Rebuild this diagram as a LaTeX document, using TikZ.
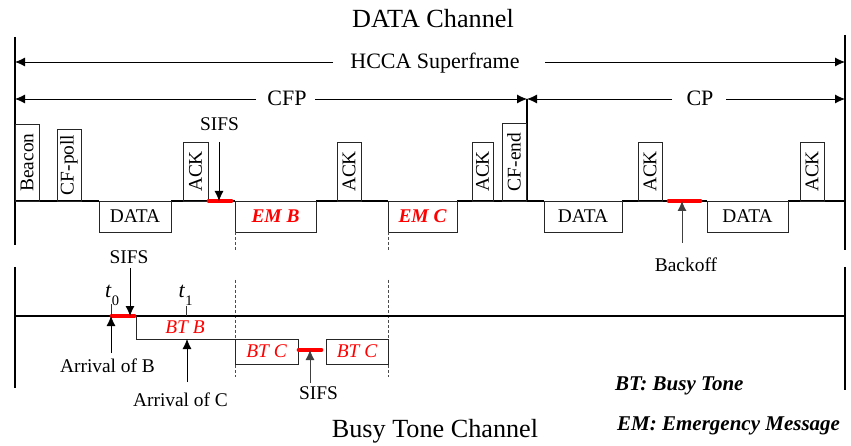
\documentclass[tikz,border=0pt]{standalone}
\usepackage{fontspec}
\setmainfont{Liberation Serif}
\usetikzlibrary{arrows.meta}
\begin{document}
\begin{tikzpicture}[x=1pt,y=-1pt,
  lbl/.style={font=\fontsize{19.4}{21}\selectfont, inner sep=0pt},
  big/.style={font=\fontsize{26.2}{28}\selectfont, inner sep=0pt},
  mid/.style={font=\fontsize{22}{24}\selectfont, inner sep=0pt},
  pkt/.style={draw=black!85, line width=0.8pt, inner sep=0pt, font=\fontsize{19.4}{21}\selectfont},
  frameline/.style={line width=2.3pt},
  chanline/.style={line width=1.7pt},
  thinline/.style={draw=black!85, line width=0.8pt},
  redseg/.style={red, line width=3.6pt, line cap=round},
  arr/.style={line width=0.8pt, -{Latex[length=10pt,width=9pt]}},
  vdash/.style={black!70, line width=0.7pt, dash pattern=on 3pt off 2pt},
  emtxt/.style={text=red, font=\fontsize{19.4}{21}\selectfont\bfseries\itshape},
  bttxt/.style={text=red, font=\fontsize{19.4}{21}\selectfont\itshape, inner sep=0pt},
  legend/.style={font=\fontsize{21}{23}\selectfont\bfseries\itshape, inner sep=0pt, anchor=base west}
]
\useasboundingbox (0,0) rectangle (851,446);

% ---------------- titles ----------------
\node[big, anchor=base] (ttop) at (433,28) {DATA Channel};
\node[big, anchor=base] (tbot) at (435,437) {Busy Tone Channel};

% ---------------- frame lines ----------------
\coordinate (lt1) at (15,37);  \coordinate (lb1) at (15,245);
\coordinate (rt1) at (845,35); \coordinate (rb1) at (845,250);
\coordinate (lt2) at (15,267); \coordinate (lb2) at (15,388);
\coordinate (rt2) at (845,267);\coordinate (rb2) at (845,390);
\draw[frameline] (lt1) -- (lb1);
\draw[frameline] (rt1) -- (rb1);
\draw[frameline] (lt2) -- (lb2);
\draw[frameline] (rt2) -- (rb2);

% ---------------- superframe arrows ----------------
\node[mid, anchor=base] (hcca) at (435,69) {HCCA Superframe};
\coordinate (hl) at (15,62); \coordinate (hr) at (845,62);
\coordinate (hla) at (333,62); \coordinate (hra) at (545,62);
\draw[arr] (hla) -- (hl);
\draw[arr] (hra) -- (hr);

\node[mid, anchor=base] (cfp) at (287,106) {CFP};
\node[mid, anchor=base] (cp) at (700,106) {CP};
\coordinate (cl) at (15,99); \coordinate (cm) at (527,99); \coordinate (cr) at (845,99);
\coordinate (cfpa) at (256,99); \coordinate (cfpb) at (315,99);
\coordinate (cpa) at (672,99); \coordinate (cpb) at (726,99);
\draw[arr] (cfpa) -- (cl);
\draw[arr] (cfpb) -- (cm);
\draw[arr] (cpa) -- (cm);
\draw[arr] (cpb) -- (cr);
\coordinate (cmb) at (527,201);
\draw[frameline, line width=2pt] (cm) -- (cmb);

% ---------------- data channel baseline ----------------
\draw[chanline] (15,201) -- (99,201);
\draw[chanline] (171,201) -- (235,201);
\draw[chanline] (316,201) -- (388,201);
\draw[chanline] (457,201) -- (544,201);
\draw[chanline] (622,201) -- (707,201);
\draw[chanline] (788,201) -- (845,201);

% ---------------- upper packets ----------------
\node[pkt, minimum width=24pt, minimum height=77pt] (beacon) at (27,162.5) {\rotatebox{90}{Beacon}};
\node[pkt, minimum width=24pt, minimum height=72pt] (cfpoll) at (69,165) {\rotatebox{90}{CF-poll}};
\node[pkt, minimum width=25pt, minimum height=59pt] (ack1) at (195.5,171.5) {\rotatebox{90}{ACK}};
\node[pkt, minimum width=24pt, minimum height=59pt] (ack2) at (349,171.5) {\rotatebox{90}{ACK}};
\node[pkt, minimum width=21pt, minimum height=59pt] (ack3) at (482.5,171.5) {\rotatebox{90}{ACK}};
\node[pkt, minimum width=24pt, minimum height=78pt] (cfend) at (514,162) {\rotatebox{90}{CF-end}};
\node[pkt, minimum width=24pt, minimum height=59pt] (ack4) at (650,171.5) {\rotatebox{90}{ACK}};
\node[pkt, minimum width=24pt, minimum height=59pt] (ack5) at (812,171.5) {\rotatebox{90}{ACK}};

% ---------------- lower packets ----------------
\node[pkt, minimum width=72pt, minimum height=31pt] (data1) at (135,216.5) {DATA};
\node[pkt, emtxt, minimum width=81pt, minimum height=31pt] (emb) at (275.5,216.5) {EM B};
\node[pkt, emtxt, minimum width=69pt, minimum height=31pt] (emc) at (422.5,216.5) {EM C};
\node[pkt, minimum width=78pt, minimum height=31pt] (data2) at (583,216.5) {DATA};
\node[pkt, minimum width=81pt, minimum height=31pt] (data3) at (747.5,216.5) {DATA};

% ---------------- SIFS / Backoff (data channel) ----------------
\coordinate (s1a) at (208.5,201); \coordinate (s1b) at (231.5,201);
\draw[redseg] (s1a) -- (s1b);
\node[lbl, anchor=base] (sifs1) at (219.5,131) {SIFS};
\coordinate (s1top) at (219,142); \coordinate (s1tip) at (219,201);
\draw[arr] (s1top) -- (s1tip);

\coordinate (boa) at (668.5,201); \coordinate (bob) at (700.5,201);
\draw[redseg] (boa) -- (bob);
\node[lbl, anchor=base] (backoff) at (686,272) {Backoff};
\coordinate (bobot) at (682,243); \coordinate (botip) at (682,201);
\draw[arr, black!75] (bobot) -- (botip);

% ---------------- dashed separators ----------------
\draw[vdash] (235,232) -- (235,250);
\draw[vdash] (235,280) -- (235,377);
\draw[vdash] (388,232) -- (388,250);
\draw[vdash] (388,280) -- (388,377);

% ---------------- busy tone channel ----------------
\draw[chanline] (15,316) -- (845,316);
\draw[thinline] (136,316) -- (136,339) -- (235,339);
\node[bttxt] (btb) at (185,327.5) {BT B};
\node[pkt, bttxt, minimum width=63pt, minimum height=25pt] (btc1) at (266.5,351.5) {BT C};
\node[pkt, bttxt, minimum width=62pt, minimum height=25pt] (btc2) at (357,351.5) {BT C};

\coordinate (s2a) at (111.5,316); \coordinate (s2b) at (134.5,316);
\draw[redseg] (s2a) -- (s2b);
\coordinate (s3a) at (298.5,350); \coordinate (s3b) at (321.5,350);
\draw[redseg] (s3a) -- (s3b);

% ticks and time labels
\draw[line width=0.7pt, black!80] (111,304) -- (111,316);
\draw[line width=0.7pt, black!80] (186,306) -- (186,316);
\node[inner sep=0pt, anchor=base west, font=\fontsize{22}{22}\selectfont] (t0) at (105,298) {\textit{t}\raisebox{-8pt}{\fontsize{14.5}{14.5}\selectfont 0}};
\node[inner sep=0pt, anchor=base west, font=\fontsize{22}{22}\selectfont] (t1) at (178.5,298) {\textit{t}\raisebox{-8pt}{\fontsize{14.5}{14.5}\selectfont 1}};

% arrows busy tone channel
\node[lbl, anchor=base] (sifs2) at (129,264) {SIFS};
\coordinate (s2top) at (130,268); \coordinate (s2tip) at (130,316);
\draw[arr] (s2top) -- (s2tip);

\node[lbl, anchor=base] (arrb) at (107.5,372) {Arrival of B};
\coordinate (abbot) at (111,353); \coordinate (abtip) at (111,316);
\draw[arr] (abbot) -- (abtip);

\node[lbl, anchor=base] (arrc) at (180.5,406) {Arrival of C};
\coordinate (acbot) at (187,382); \coordinate (actip) at (187,339);
\draw[arr] (acbot) -- (actip);

\node[lbl, anchor=base] (sifs3) at (318.5,399) {SIFS};
\coordinate (s3bot) at (310,383); \coordinate (s3tip) at (310,350);
\draw[arr, black!75] (s3bot) -- (s3tip);

% ---------------- legend ----------------
\node[legend] (leg1) at (615,390) {BT: Busy Tone};
\node[legend] (leg2) at (617,430) {EM: Emergency Message};
\end{tikzpicture}
\end{document}
